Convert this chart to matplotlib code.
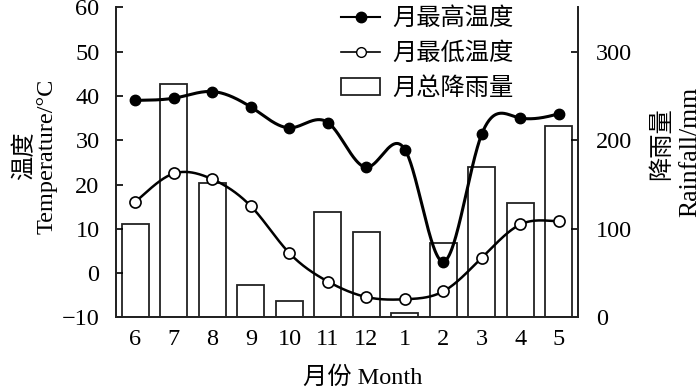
import numpy as np
import matplotlib
matplotlib.use('Agg')
import matplotlib.pyplot as plt
from matplotlib.lines import Line2D
from matplotlib.patches import Rectangle

plt.rcParams['font.family'] = ['Liberation Serif', 'Noto Sans CJK SC']

months = ['6', '7', '8', '9', '10', '11', '12', '1', '2', '3', '4', '5']
t_max = [39.0, 39.5, 41.0, 37.5, 32.8, 34.0, 23.9, 27.9, 2.6, 31.5, 35.0, 36.0]
t_min = [16.1, 22.5, 21.2, 15.1, 4.5, -1.9, -5.4, -5.9, -4.1, 3.5, 11.0, 11.7]
rain = [106, 263, 152, 37, 18, 119, 97, 4.5, 84.5, 170, 129, 216]


def smooth(x, y, n=60):
    # cubic hermite curve, tangents = mix of natural spline and catmull-rom
    x = np.asarray(x, float)
    y = np.asarray(y, float)
    k = len(x)
    h = np.diff(x)
    A = np.zeros((k, k))
    b = np.zeros(k)
    A[0, 0] = A[-1, -1] = 1
    for i in range(1, k - 1):
        A[i, i - 1] = h[i - 1]
        A[i, i] = 2 * (h[i - 1] + h[i])
        A[i, i + 1] = h[i]
        b[i] = 6 * ((y[i + 1] - y[i]) / h[i] - (y[i] - y[i - 1]) / h[i - 1])
    m = np.linalg.solve(A, b)
    d_nat = np.empty(k)
    d_nat[:-1] = np.diff(y) / h - h * (2 * m[:-1] + m[1:]) / 6
    d_nat[-1] = (y[-1] - y[-2]) / h[-1] + h[-1] * (m[-2] + 2 * m[-1]) / 6
    d_cr = np.gradient(y, x)
    d = 0.6 * d_nat + 0.4 * d_cr
    xs, ys = [], []
    for i in range(k - 1):
        t = np.linspace(0, 1, n)
        h00 = 2 * t**3 - 3 * t**2 + 1
        h10 = t**3 - 2 * t**2 + t
        h01 = -2 * t**3 + 3 * t**2
        h11 = t**3 - t**2
        xs.append(x[i] + t * h[i])
        ys.append(h00 * y[i] + h10 * h[i] * d[i] + h01 * y[i + 1] + h11 * h[i] * d[i + 1])
    return np.concatenate(xs), np.concatenate(ys)


x = np.arange(len(months))

fig = plt.figure(figsize=(7, 3.89), dpi=100)
ax = fig.add_axes([0.166, 0.184, 0.66, 0.797])
ax2 = ax.twinx()
ax.set_zorder(ax2.get_zorder() + 1)
ax.patch.set_visible(False)

ax2.bar(x, rain, width=0.7, facecolor='white', edgecolor='#222222', linewidth=1.3)

xs, ys = smooth(x, t_max)
ax.plot(xs, ys, color='black', lw=2.2)
ax.plot(x, t_max, 'o', color='black', ms=7.5, mfc='black')
xs, ys = smooth(x, t_min)
ax.plot(xs, ys, color='black', lw=1.8)
ax.plot(x, t_min, 'o', color='black', ms=8, mfc='white', mew=1.2)

ax.set_xlim(-0.5, len(months) - 0.5)
ax.set_ylim(-10, 60)
ax.set_yticks(range(-10, 61, 10))
ax2.set_ylim(0, 350)
ax2.set_yticks([0, 100, 200, 300])
ax.set_xticks(x)
ax.set_xticklabels(months)

for a in (ax, ax2):
    a.spines['top'].set_visible(False)
    for s in ('left', 'right', 'bottom'):
        a.spines[s].set_linewidth(1.3)
        a.spines[s].set_color('#222222')
ax.tick_params(axis='y', direction='in', length=5, width=1.2, labelsize=17.5, pad=12)
ax2.tick_params(axis='y', direction='in', length=5, width=1.2, labelsize=17.5, pad=13)
ax.tick_params(axis='x', length=0, labelsize=17.5, pad=8)

ax.set_ylabel('温度\nTemperature/°C', fontsize=17.5, linespacing=1.05, labelpad=3, y=0.52)
ax.set_xlabel('月份 Month', fontsize=17.5, labelpad=12, x=0.533)
# right label as two separate texts
ax2.text(1.182, 0.561, '降雨量', transform=ax2.transAxes, rotation=90,
         ha='center', va='center', fontsize=17.5)
ax2.text(1.242, 0.535, 'Rainfall/mm', transform=ax2.transAxes, rotation=90,
         ha='center', va='center', fontsize=18.5)

handles = [
    Line2D([], [], color='black', lw=1.5, marker='o', ms=7.5, mfc='black'),
    Line2D([], [], color='black', lw=1.2, marker='o', ms=7, mfc='white'),
    Rectangle((0, 0), 1, 1, facecolor='white', edgecolor='#222222', lw=1.3),
]
labels = ['月最高温度', '月最低温度', '月总降雨量']
ax.legend(handles, labels, loc='upper left', bbox_to_anchor=(0.44, 1.07), frameon=False,
          fontsize=17.5, handlelength=1.6, handletextpad=0.5, labelspacing=0.5)

fig.savefig('out.png', dpi=100)
